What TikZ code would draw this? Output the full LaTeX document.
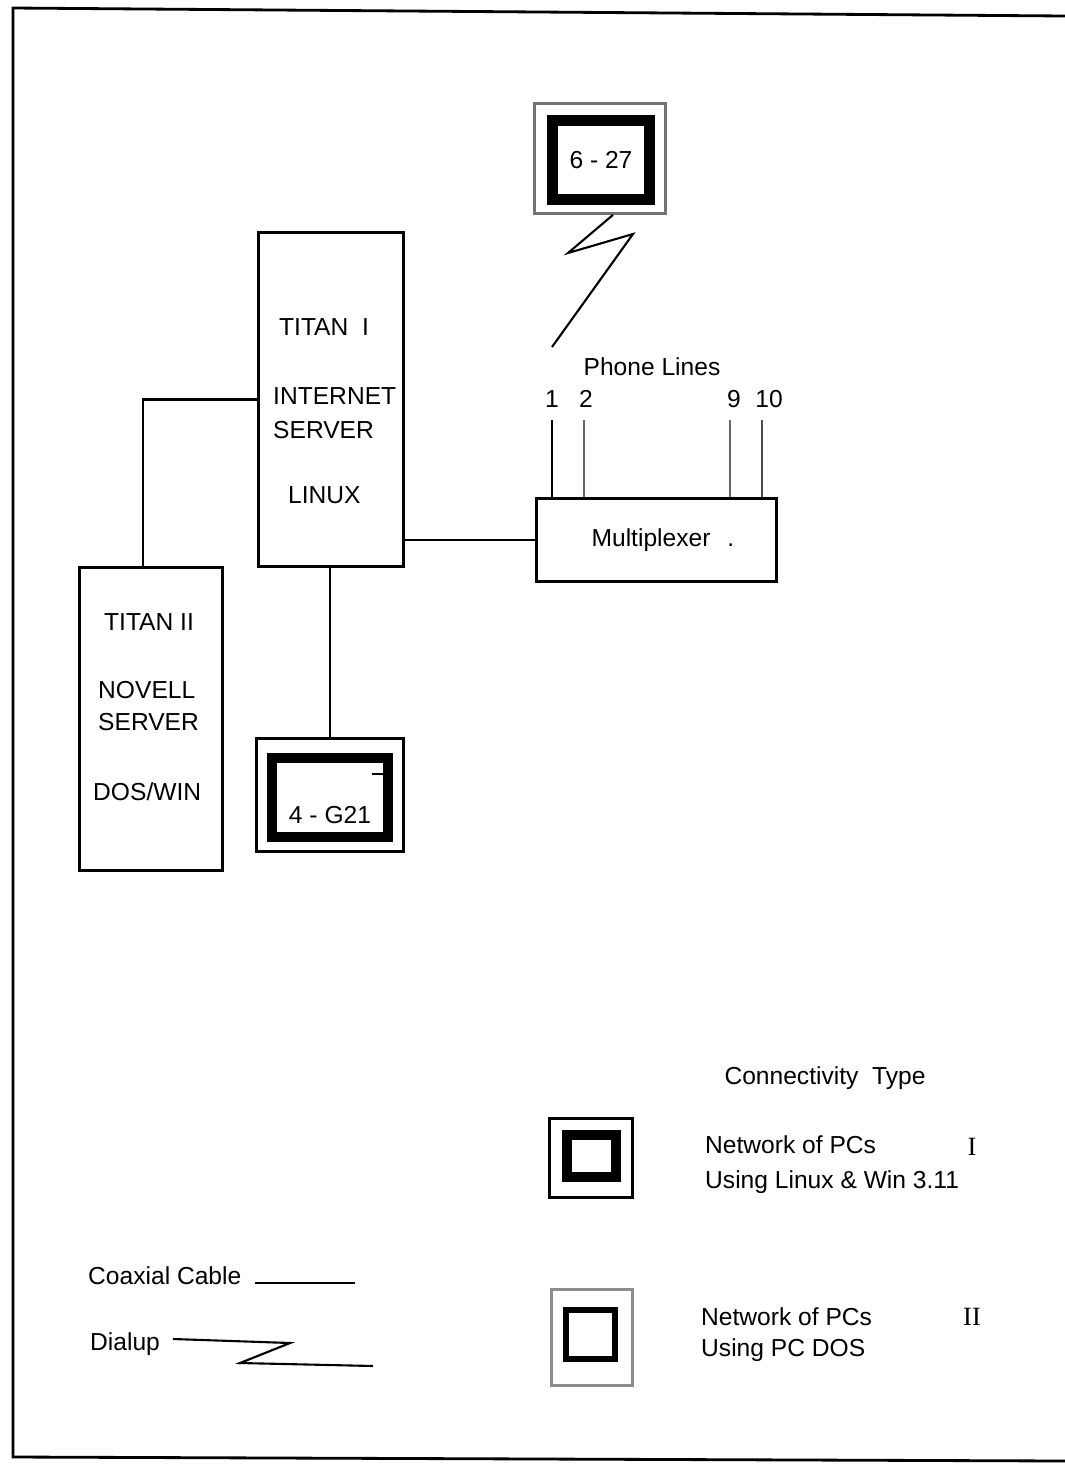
\documentclass[tikz,border=0pt]{standalone}
\usepackage{fontspec}
\setmainfont{Liberation Serif}
\setsansfont{Liberation Sans}
\usepackage{xcolor}
\usetikzlibrary{calc}

\begin{document}
\begin{tikzpicture}[
    x=0.02cm, y=-0.02cm,
    every node/.style={font=\sffamily\fontsize{14}{16}\selectfont},
    box/.style={draw, line width=1.6pt, inner sep=0pt},
    wire/.style={line width=1.6pt},
    thin wire/.style={line width=1.2pt},
    netout/.style={draw, line width=1.6pt, inner sep=0pt},
    netin/.style={draw, line width=5.8pt, inner sep=0pt},
    rom/.style={font=\rmfamily\fontsize{15}{17}\selectfont}
]
\useasboundingbox (0,0) rectangle (1065,1465);
\draw[line width=1.6pt] (1065,16) -- (13,8) -- (13,1457) -- (1065,1461);
\node[box, minimum width=2.9cm, minimum height=6.68cm] (t1) at (331,399.5) {};
\node (t1name) at (324,327) {TITAN\ \ I};
\node[anchor=west] (t1role) at (267,396) {INTERNET};
\node[anchor=west] (t1srv) at (267,430) {SERVER};
\node[anchor=west] (t1os) at (282,495) {LINUX};
\node[box, minimum width=2.86cm, minimum height=6.06cm] (t2) at (151,719) {};
\node (t2name) at (149,622) {TITAN II};
\node[anchor=west] (t2role) at (92,690) {NOVELL};
\node[anchor=west] (t2srv) at (92,722) {SERVER};
\node[anchor=west] (t2os) at (87,792) {DOS/WIN};
\node[box, minimum width=4.8cm, minimum height=1.66cm] (mux) at (656.5,540) {\hspace*{0.26cm}Multiplexer\hspace{0.34cm}.};
\node[netout, draw=black!55, minimum width=2.62cm, minimum height=2.2cm] (n627o) at (600,158.5) {};
\node[netin, minimum width=1.94cm, minimum height=1.58cm] (n627) at (601,160) {6 - 27};
\node[netout, minimum width=2.94cm, minimum height=2.26cm] (g21o) at (330,795) {};
\node[netin, minimum width=2.32cm, minimum height=1.58cm] (g21) at (330,797.5) {};
\node (g21lbl) at (330,815) {4 - G21};
\draw[line width=1.2pt] (372,774) -- (385,774);
\node (phone) at (652,367) {Phone Lines};
\node (n1) at (552,399) {1};
\node (n2) at (586,399) {2};
\node (n9) at (734,399) {9};
\node (n10) at (769,399) {10};
\coordinate (pl1) at (552,420);
\coordinate (pl2) at (584,420);
\coordinate (pl9) at (730,420);
\coordinate (pl10) at (762,420);
\draw[wire] (pl1) -- (pl1 |- mux.north);
\draw[wire, black!60] (pl2) -- (pl2 |- mux.north);
\draw[wire, black!60] (pl9) -- (pl9 |- mux.north);
\draw[wire, black!70] (pl10) -- (pl10 |- mux.north);
\coordinate (dz1) at (568,253);
\coordinate (dz2) at (633,234);
\coordinate (dzend) at (552,347);
\draw[thin wire] ($(n627o.south)+(13,0)$) -- (dz1) -- (dz2) -- (dzend);
\draw[wire] ($(t2.north)+(-8,0)$) |- (t1.west);
\draw[wire] (t1.east |- mux.west) -- (mux.west);
\draw[wire] (t1.south -| g21o.north) -- (g21o.north);
\node (ctype) at (825,1078) {Connectivity\ \ Type};
\node[netout, minimum width=1.66cm, minimum height=1.58cm] (kI) at (591,1158) {};
\node[netin, line width=5.6pt, minimum width=0.98cm, minimum height=0.84cm] (kIin) at (591.5,1156) {};
\node[anchor=west] (kItxt) at (699,1145) {Network of PCs};
\node[anchor=west] (kIos) at (699,1182) {Using Linux \& Win 3.11};
\node[rom] (kInum) at (972,1147) {I};
\node[netout, draw=black!45, minimum width=1.62cm, minimum height=1.92cm] (kII) at (592,1337.5) {};
\node[netin, line width=3.4pt, minimum width=0.98cm, minimum height=0.98cm] (kIIin) at (590.5,1334.5) {};
\node[anchor=west] (kIItxt) at (695,1317) {Network of PCs};
\node[anchor=west] (kIIos) at (695,1350) {Using PC DOS};
\node[rom] (kIInum) at (972,1317) {II};
\node[anchor=west] (coax) at (82,1276) {Coaxial Cable};
\coordinate (coaxa) at (255,1283);
\coordinate (coaxb) at (355,1283);
\draw[thin wire] (coaxa) -- (coaxb);
\node[anchor=west] (dial) at (84,1344) {Dialup};
\coordinate (dla) at (173,1339);
\coordinate (dlb) at (290,1343);
\coordinate (dlc) at (240,1363);
\coordinate (dld) at (373,1366);
\draw[thin wire] (dla) -- (dlb) -- (dlc) -- (dld);
\end{tikzpicture}
\end{document}
